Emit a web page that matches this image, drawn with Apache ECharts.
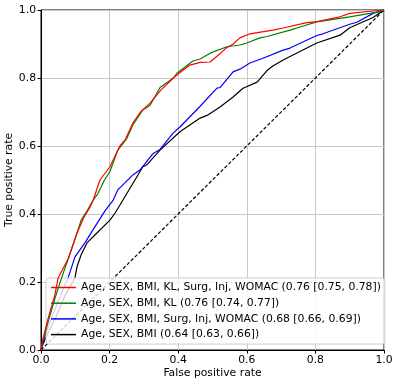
<!DOCTYPE html>
<html>
<head>
<meta charset="utf-8">
<script src="https://cdn.jsdelivr.net/npm/echarts@6/dist/echarts.min.js"></script>
<style>
html, body { margin: 0; padding: 0; background: #fff; }
#roc-graph-container { width: 399px; height: 385px; }
</style>
</head>
<body>
<div id="roc-graph-container"></div>
<script>
// ROC curves, points as [false positive rate, true positive rate]
var axisTicks = [0, 0.2, 0.4, 0.6, 0.8, 1.0];

var fullModel = [[0,0],[0.005,0.03],[0.02,0.09],[0.04,0.16],[0.05,0.212],[0.08,0.27],[0.105,0.344],
    [0.125,0.39],[0.143,0.42],[0.152,0.441],[0.172,0.5],[0.201,0.539],[0.23,0.6],[0.245,0.618],
    [0.268,0.668],[0.29,0.7],[0.318,0.726],[0.35,0.765],[0.386,0.8],[0.41,0.82],[0.434,0.838],
    [0.464,0.846],[0.493,0.847],[0.52,0.87],[0.54,0.888],[0.56,0.9],[0.58,0.918],[0.609,0.93],
    [0.676,0.941],[0.706,0.947],[0.775,0.963],[0.804,0.966],[0.872,0.98],[0.9,0.99],[0.968,0.997],[1,1]];

var klModel = [[0,0],[0.005,0.025],[0.02,0.08],[0.04,0.15],[0.06,0.212],[0.08,0.27],[0.105,0.344],
    [0.117,0.382],[0.135,0.41],[0.152,0.441],[0.166,0.46],[0.185,0.5],[0.201,0.525],[0.224,0.588],
    [0.25,0.622],[0.268,0.662],[0.297,0.706],[0.318,0.72],[0.347,0.772],[0.386,0.8],[0.396,0.814],
    [0.443,0.85],[0.464,0.856],[0.493,0.873],[0.542,0.892],[0.58,0.897],[0.6,0.903],[0.638,0.918],
    [0.659,0.922],[0.726,0.941],[0.755,0.95],[0.804,0.965],[0.9,0.98],[0.988,0.995],[1,1]];

var surgModel = [[0,0],[0.005,0.02],[0.02,0.065],[0.045,0.13],[0.065,0.18],[0.079,0.212],[0.099,0.274],
    [0.128,0.315],[0.157,0.362],[0.187,0.41],[0.21,0.44],[0.224,0.471],[0.268,0.515],[0.289,0.53],
    [0.327,0.578],[0.347,0.59],[0.385,0.638],[0.405,0.656],[0.464,0.717],[0.513,0.77],[0.522,0.772],
    [0.56,0.818],[0.58,0.826],[0.609,0.844],[0.647,0.858],[0.706,0.882],[0.726,0.888],[0.804,0.925],
    [0.822,0.93],[0.9,0.958],[0.921,0.964],[0.968,0.99],[1,1]];

var baseModel = [[0,0],[0.005,0.015],[0.02,0.05],[0.045,0.1],[0.07,0.16],[0.099,0.212],[0.105,0.245],
    [0.117,0.28],[0.134,0.315],[0.163,0.344],[0.201,0.382],[0.216,0.403],[0.239,0.441],[0.297,0.539],
    [0.309,0.545],[0.347,0.588],[0.405,0.642],[0.464,0.682],[0.484,0.69],[0.522,0.715],[0.56,0.744],
    [0.589,0.77],[0.63,0.788],[0.659,0.822],[0.676,0.835],[0.706,0.853],[0.775,0.888],[0.804,0.903],
    [0.872,0.926],[0.9,0.948],[0.968,0.978],[1,1]];

var chanceLine = [[0,0],[1,1]];

var seriesNames = [
    'Age, SEX, BMI, KL, Surg, Inj, WOMAC (0.76 [0.75, 0.78])',
    'Age, SEX, BMI, KL (0.76 [0.74, 0.77])',
    'Age, SEX, BMI, Surg, Inj, WOMAC (0.68 [0.66, 0.69])',
    'Age, SEX, BMI (0.64 [0.63, 0.66])'
];
var seriesColors = ['#ff0000', '#008000', '#0000ff', '#000000'];
var seriesData = [fullModel, klModel, surgModel, baseModel];

var fontFamily = 'DejaVu Sans';
var fontSize = 10.8;
var chart = echarts.init(document.getElementById('roc-graph-container'));

function valueAxis(name, gap) {
    return {
        type: 'value', min: axisTicks[0], max: axisTicks[axisTicks.length - 1], interval: 0.2,
        name: name, nameLocation: 'middle', nameGap: gap, nameMoveOverlap: false,
        nameTextStyle: { color: '#000', fontSize: fontSize, fontFamily: fontFamily },
        axisLine: { show: true, lineStyle: { color: '#000', width: 1 } },
        axisTick: { show: true, inside: false, length: 3.5, lineStyle: { color: '#000' } },
        axisLabel: { color: '#000', fontSize: fontSize, fontFamily: fontFamily, margin: 5,
            formatter: function(v) { return v.toFixed(1); } },
        splitLine: { show: true, lineStyle: { color: '#c8c8c8', width: 1 } }
    };
}

var series = seriesData.map(function(d, i) {
    return {
        name: seriesNames[i], type: 'line', data: d,
        symbol: 'none', animation: false,
        lineStyle: { color: seriesColors[i], width: 1.2 },
        itemStyle: { color: seriesColors[i] },
        z: 5 - i
    };
});
series.push({
    name: 'chance', type: 'line', data: chanceLine, symbol: 'none', animation: false,
    lineStyle: { color: '#000', width: 1.2, type: [3.5, 2] }, z: 1
});

chart.setOption({
    animation: false,
    grid: { left: 41, top: 10, width: 343, height: 340, show: true, borderColor: '#000', borderWidth: 1,
        containLabel: false, outerBoundsMode: 'none' },
    xAxis: valueAxis('False positive rate', 18),
    yAxis: valueAxis('True positive rate', 26),
    legend: {
        data: seriesNames,
        orient: 'vertical', left: 46, top: 278,
        icon: 'rect', itemWidth: 25, itemHeight: 1.5, itemGap: 2.7,
        padding: [3, 4, 3, 5],
        backgroundColor: 'rgba(255,255,255,0.8)',
        borderColor: '#cccccc', borderWidth: 1, borderRadius: 3,
        textStyle: { color: '#000', fontSize: fontSize, fontFamily: fontFamily, lineHeight: 13 },
        selectedMode: false
    },
    series: series
});
</script>
</body>
</html>
